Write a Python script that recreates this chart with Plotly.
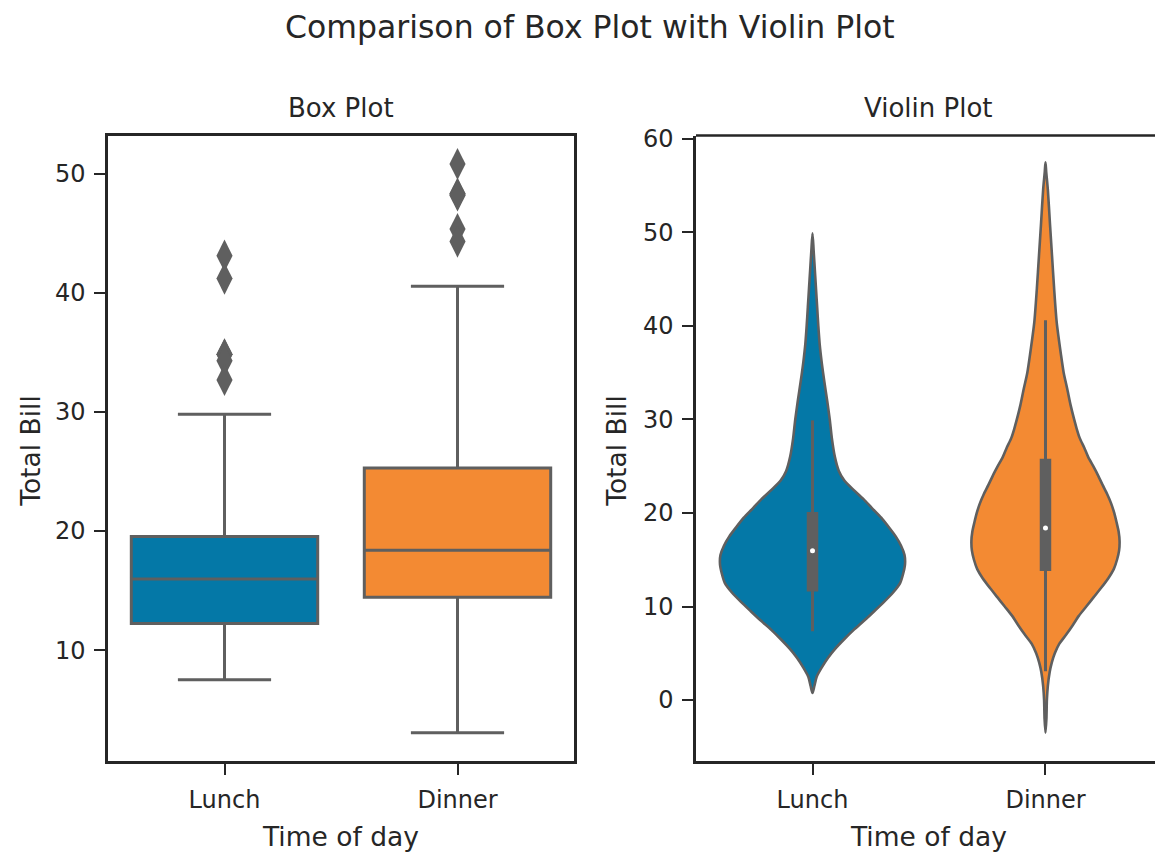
import plotly.graph_objects as go

# ---------------- data ----------------
times = ["Lunch", "Dinner"]

box_q1 = [12.24, 14.44]
box_median = [15.97, 18.39]
box_q3 = [19.53, 25.28]
box_lower = [7.51, 3.07]
box_upper = [29.80, 40.55]
outliers_lunch = [43.11, 41.19, 34.83, 34.81, 34.30, 32.68]
outliers_dinner = [50.81, 48.33, 48.27, 48.17, 45.35, 44.30]

# violin outlines: total bill values and half widths (x units)
violin_y_lunch = [0.75, 1.5, 2.5, 3.5, 4.5, 5.5, 6.5, 7.5, 8.5, 9.5, 10.5, 11.5, 12.5,
                  13.5, 14.5, 15.5, 16.5, 17.5, 18.5, 19.5, 20.5, 21.5, 22.5, 23.5,
                  24.5, 26, 28, 30, 32, 34, 36, 38, 40, 42, 44, 46, 48, 49.9]
violin_hw_lunch = [0.000, 0.008, 0.018, 0.040, 0.066, 0.098, 0.136, 0.177, 0.222, 0.265,
                   0.307, 0.346, 0.376, 0.389, 0.397, 0.395, 0.380, 0.357, 0.327, 0.295,
                   0.256, 0.218, 0.175, 0.136, 0.113, 0.096, 0.083, 0.074, 0.063, 0.051,
                   0.040, 0.031, 0.025, 0.020, 0.015, 0.010, 0.005, 0.000]
violin_y_dinner = [-3.5, -2, 0, 1.5, 3, 4, 5, 6, 7, 8, 9, 10, 11, 12, 13, 14, 15, 16, 17,
                   18, 19, 20, 21, 22, 23, 24, 25, 26, 27, 28, 29, 30, 31.5, 33.3, 35, 37,
                   40.4, 44, 47.5, 51, 54.6, 56.5, 57.5]
violin_hw_dinner = [0.000, 0.004, 0.006, 0.010, 0.018, 0.027, 0.040, 0.059, 0.089, 0.117,
                    0.143, 0.175, 0.207, 0.239, 0.269, 0.293, 0.307, 0.316, 0.318, 0.314,
                    0.305, 0.295, 0.282, 0.265, 0.245, 0.226, 0.205, 0.183, 0.166, 0.147,
                    0.134, 0.123, 0.108, 0.093, 0.078, 0.066, 0.048, 0.037, 0.028, 0.019,
                    0.010, 0.003, 0.000]

inner_whisker_lo = [7.35, 3.07]
inner_whisker_hi = [29.9, 40.6]
inner_box_lo = [11.6, 13.8]
inner_box_hi = [20.1, 25.8]
inner_median = [15.97, 18.39]

# ---------------- styles ----------------
fill_colors = ["#0478a7", "#f38a33"]
gray = "#5f5f5f"
dark = "#262626"
FONT = "DejaVu Sans"
W, H = 1155, 858

fig = go.Figure()

# ---- box plot panel ----
for i, t in enumerate(times):
    fig.add_trace(go.Box(
        x=[i], q1=[box_q1[i]], median=[box_median[i]], q3=[box_q3[i]],
        lowerfence=[box_lower[i]], upperfence=[box_upper[i]],
        width=0.8, whiskerwidth=0.5, fillcolor=fill_colors[i],
        line=dict(color=gray, width=3), boxpoints=False, name=t,
        xaxis="x", yaxis="y", showlegend=False, hoverinfo="skip"))

for i, outs in enumerate([outliers_lunch, outliers_dinner]):
    fig.add_trace(go.Scatter(
        x=[i] * len(outs), y=outs, mode="markers",
        marker=dict(symbol="diamond-tall", size=23, color=gray, line=dict(width=0)),
        xaxis="x", yaxis="y", showlegend=False, hoverinfo="skip"))

# ---- violin panel ----
for i, (ys, hws) in enumerate([(violin_y_lunch, violin_hw_lunch),
                               (violin_y_dinner, violin_hw_dinner)]):
    xs = [i + h for h in hws] + [i - h for h in reversed(hws[1:-1])]
    yy = list(ys) + list(reversed(ys[1:-1]))
    xs.append(xs[0]); yy.append(yy[0])
    fig.add_trace(go.Scatter(
        x=xs, y=yy, mode="lines", fill="toself", fillcolor=fill_colors[i],
        line=dict(color=gray, width=2.6, shape="spline", smoothing=0.7),
        xaxis="x2", yaxis="y2", showlegend=False, hoverinfo="skip"))
    fig.add_trace(go.Scatter(
        x=[i, i], y=[inner_whisker_lo[i], inner_whisker_hi[i]], mode="lines",
        line=dict(color=gray, width=3), xaxis="x2", yaxis="y2",
        showlegend=False, hoverinfo="skip"))
    fig.add_trace(go.Scatter(
        x=[i, i], y=[inner_box_lo[i], inner_box_hi[i]], mode="lines",
        line=dict(color=gray, width=11.5), xaxis="x2", yaxis="y2",
        showlegend=False, hoverinfo="skip"))
    fig.add_trace(go.Scatter(
        x=[i], y=[inner_median[i]], mode="markers",
        marker=dict(color="white", size=5, line=dict(width=0)),
        xaxis="x2", yaxis="y2", showlegend=False, hoverinfo="skip"))

# ---------------- layout ----------------
x1_dom = [108 / W, 574 / W]
x2_dom = [696 / W, 1.0]
y_dom = [1 - 760 / H, 1 - 127 / H]

axis_common = dict(showgrid=False, zeroline=False, showline=True, linewidth=2.5,
                   linecolor=dark, ticks="outside", ticklen=11, tickwidth=2.2,
                   tickcolor=dark, tickfont=dict(family=FONT, size=24, color=dark))

fig.update_layout(
    width=W, height=H, margin=dict(l=0, r=0, t=0, b=0),
    paper_bgcolor="white", plot_bgcolor="white", showlegend=False, boxmode="overlay",
    xaxis=dict(domain=x1_dom, range=[-0.5, 1.5], tickvals=[0, 1], ticktext=times,
               anchor="y", mirror=True, ticklabelstandoff=4, **axis_common),
    yaxis=dict(domain=y_dom, range=[0.68, 53.2], tickvals=[10, 20, 30, 40, 50],
               anchor="x", mirror=True, ticklabelstandoff=4, **axis_common),
    xaxis2=dict(domain=x2_dom, range=[-0.5, 1.47], tickvals=[0, 1], ticktext=times,
                anchor="y2", ticklabelstandoff=4, **axis_common),
    yaxis2=dict(domain=y_dom, range=[-6.53, 60.35], tickvals=[0, 10, 20, 30, 40, 50, 60],
                anchor="x2", ticklabelstandoff=4, **axis_common),
)

# top spine for the violin panel
fig.add_shape(type="line", xref="x2 domain", yref="y2 domain", x0=0, x1=1, y0=1, y1=1,
              line=dict(color=dark, width=2.5))

def ann(text, x, y, size, angle=0):
    fig.add_annotation(text=text, x=x / W, y=1 - y / H, xref="paper", yref="paper",
                       showarrow=False, textangle=angle, xanchor="center", yanchor="middle",
                       font=dict(family=FONT, size=size, color=dark))

ann("Comparison of Box Plot with Violin Plot", 589.5, 17, 31.5)
ann("Box Plot", 340.5, 99, 26)
ann("Violin Plot", 928.5, 99, 26)
ann("Time of day", 340.5, 836, 26.5)
ann("Time of day", 928.5, 836, 26.5)
ann("Total Bill", 31, 446, 26.5, -90)
ann("Total Bill", 617, 446, 26.5, -90)

fig.write_html(
    "out.html",
    config={"displayModeBar": False},
    post_script="document.body.style.margin='0';document.body.style.overflow='hidden';",
)
